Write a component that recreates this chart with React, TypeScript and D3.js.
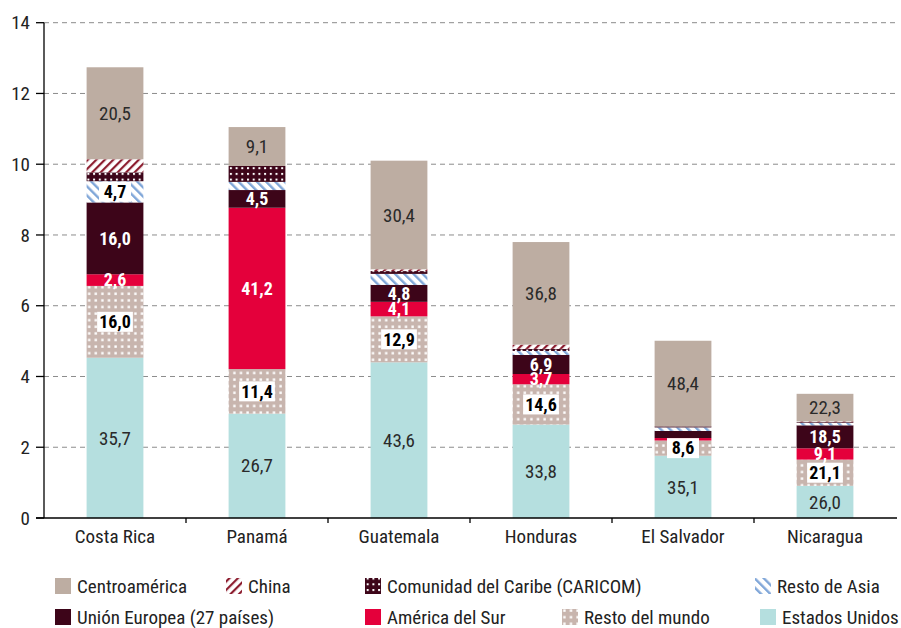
import React from "react";
import * as d3 from "d3";

const categories = ["Costa Rica", "Panamá", "Guatemala", "Honduras", "El Salvador", "Nicaragua"];

// stacked values (bottom to top)
const estadosUnidos = [4.53, 2.95, 4.4, 2.64, 1.76, 0.91];
const restoMundo = [2.03, 1.26, 1.3, 1.14, 0.43, 0.74];
const americaSur = [0.33, 4.56, 0.41, 0.29, 0.07, 0.32];
const unionEuropea = [2.03, 0.5, 0.48, 0.54, 0.2, 0.65];
const restoAsia = [0.6, 0.23, 0.31, 0.11, 0.1, 0.07];
const caricom = [0.25, 0.45, 0.08, 0.06, 0.03, 0.02];
const china = [0.37, 0.0, 0.05, 0.12, 0.0, 0.02];
const centroamerica = [2.6, 1.1, 3.07, 2.9, 2.42, 0.78];

// percentage labels
const lblEstadosUnidos = ["35,7", "26,7", "43,6", "33,8", "35,1", "26,0"];
const lblRestoMundo = ["16,0", "11,4", "12,9", "14,6", "8,6", "21,1"];
const lblAmericaSur = ["2,6", "41,2", "4,1", "3,7", null, "9,1"];
const lblUnionEuropea = ["16,0", "4,5", "4,8", "6,9", null, "18,5"];
const lblRestoAsia = ["4,7", null, null, null, null, null];
const lblCentroamerica = ["20,5", "9,1", "30,4", "36,8", "48,4", "22,3"];

const yTicks = [0, 2, 4, 6, 8, 10, 12, 14];

type LabelStyle = "plain" | "box" | "white";
const series = [
  { key: "eeuu", name: "Estados Unidos", values: estadosUnidos, labels: lblEstadosUnidos, fill: "#b5dfdf", style: "plain" as LabelStyle },
  { key: "mundo", name: "Resto del mundo", values: restoMundo, labels: lblRestoMundo, fill: "url(#pMundo)", style: "box" as LabelStyle },
  { key: "sur", name: "América del Sur", values: americaSur, labels: lblAmericaSur, fill: "#e4003b", style: "white" as LabelStyle },
  { key: "ue", name: "Unión Europea (27 países)", values: unionEuropea, labels: lblUnionEuropea, fill: "#3d0519", style: "white" as LabelStyle },
  { key: "asia", name: "Resto de Asia", values: restoAsia, labels: lblRestoAsia, fill: "url(#pAsia)", style: "box" as LabelStyle },
  { key: "caricom", name: "Comunidad del Caribe (CARICOM)", values: caricom, labels: categories.map(() => null), fill: "url(#pCaricom)", style: "plain" as LabelStyle },
  { key: "china", name: "China", values: china, labels: categories.map(() => null), fill: "url(#pChina)", style: "plain" as LabelStyle },
  { key: "centro", name: "Centroamérica", values: centroamerica, labels: lblCentroamerica, fill: "#bdada2", style: "plain" as LabelStyle },
];

const legendItems = [
  { key: "centro", x: 55, row: 0 },
  { key: "china", x: 226, row: 0 },
  { key: "caricom", x: 365, row: 0 },
  { key: "asia", x: 755, row: 0 },
  { key: "ue", x: 55, row: 1 },
  { key: "sur", x: 365, row: 1 },
  { key: "mundo", x: 562, row: 1 },
  { key: "eeuu", x: 760, row: 1 },
];

const FONT = "'Liberation Sans Narrow', 'Roboto Condensed', 'Arial Narrow', Roboto, sans-serif";

function textW(s: string, size: number) {
  let w = 0;
  for (const c of s) w += c === "," ? 0.28 : 0.556;
  return w * size * 0.82;
}

export default function App() {
  const W = 901, H = 628;
  const x0 = 44, x1 = 896;
  const x = d3.scaleBand<string>().domain(categories).range([x0, x1]).padding(0);
  const y = d3.scaleLinear().domain([0, 14]).range([518, 22.7]);
  const bw = x.bandwidth() * 0.4;

  const stackData = categories.map((c, i) => {
    const o: any = { cat: c };
    series.forEach((s) => (o[s.key] = s.values[i]));
    return o;
  });
  const stacked = d3.stack<any>().keys(series.map((s) => s.key))(stackData);

  return (
    <svg width={W} height={H} style={{ display: "block", position: "absolute", left: 0, top: 0 }} fontFamily={FONT}>
      <defs>
        <pattern id="pMundo" width="6.6" height="6.6" patternUnits="userSpaceOnUse">
          <rect width="6.6" height="6.6" fill="#c8b5ae" />
          <rect x="2.2" y="2.2" width="2.4" height="2.4" fill="#fff" />
        </pattern>
        <pattern id="pCaricom" width="5.7" height="5.7" patternUnits="userSpaceOnUse">
          <rect width="5.7" height="5.7" fill="#3d0519" />
          <rect x="1.9" y="1.9" width="2" height="2" fill="#fff" />
        </pattern>
        <pattern id="pChina" width="6" height="6" patternUnits="userSpaceOnUse" patternTransform="rotate(45)">
          <rect width="6" height="6" fill="#fff" />
          <rect x="0" y="0" width="2.2" height="6" fill="#8c1c2e" />
        </pattern>
        <pattern id="pAsia" width="6.5" height="6.5" patternUnits="userSpaceOnUse" patternTransform="rotate(-45)">
          <rect width="6.5" height="6.5" fill="#fff" />
          <rect x="0" y="0" width="2.4" height="6.5" fill="#7fa6d8" />
        </pattern>
      </defs>

      {/* gridlines */}
      {yTicks.filter((t) => t > 0).map((t) => (
        <line key={t} x1={x0} x2={897} y1={y(t)} y2={y(t)} stroke="#8c8c8c" strokeWidth={1} strokeDasharray="5,4" />
      ))}

      {/* bars */}
      {stacked.map((layer, li) => (
        <g key={layer.key}>
          {layer.map((d, i) => {
            const h = y(d[0]) - y(d[1]);
            if (h <= 0) return null;
            const cx = (x(categories[i]) as number) + x.bandwidth() / 2;
            return <rect key={i} x={cx - bw / 2} y={y(d[1])} width={bw} height={h} fill={series[li].fill} />;
          })}
        </g>
      ))}

      {/* labels */}
      {stacked.map((layer, li) => {
        const s = series[li];
        return (
          <g key={"l" + layer.key}>
            {layer.map((d, i) => {
              const lab = s.labels[i];
              if (!lab) return null;
              const cx = (x(categories[i]) as number) + x.bandwidth() / 2;
              const cy = (y(d[0]) + y(d[1])) / 2;
              if (s.style === "plain") {
                return (
                  <text key={i} x={cx} y={cy} dy="0.35em" textAnchor="middle" fontSize={19} fill="#2a2a2a">
                    {lab}
                  </text>
                );
              }
              if (s.style === "white") {
                return (
                  <text key={i} x={cx} y={cy} dy="0.35em" textAnchor="middle" fontSize={18} fontWeight="bold" fill="#fff">
                    {lab}
                  </text>
                );
              }
              const tw = Math.max(textW(lab, 18) + 7, 32);
              return (
                <g key={i}>
                  <rect x={cx - tw / 2} y={cy - 10} width={tw} height={20} fill="#fff" />
                  <text x={cx} y={cy} dy="0.35em" textAnchor="middle" fontSize={18} fontWeight="bold" fill="#000">
                    {lab}
                  </text>
                </g>
              );
            })}
          </g>
        );
      })}

      {/* y axis */}
      <line x1={x0} x2={x0} y1={y(14)} y2={y(0)} stroke="#000" strokeWidth={1.3} />
      {yTicks.map((t) => (
        <g key={t}>
          <line x1={x0 - 8} x2={x0} y1={y(t)} y2={y(t)} stroke="#000" strokeWidth={1.3} />
          <text x={30} y={y(t)} dy="0.35em" textAnchor="end" fontSize={19} fill="#222">
            {t}
          </text>
        </g>
      ))}

      {/* x axis */}
      <line x1={x0 - 8} x2={897} y1={y(0)} y2={y(0)} stroke="#000" strokeWidth={1.3} />
      {categories.map((c, i) => {
        const bx = (x(c) as number) + x.bandwidth();
        return (
          <g key={c}>
            {i < categories.length - 1 && <line x1={bx} x2={bx} y1={y(0)} y2={y(0) + 5} stroke="#000" strokeWidth={1.3} />}
            <text x={(x(c) as number) + x.bandwidth() / 2} y={536} dy="0.35em" textAnchor="middle" fontSize={19} fill="#222">
              {c}
            </text>
          </g>
        );
      })}

      {/* legend */}
      {legendItems.map((it) => {
        const s = series.find((q) => q.key === it.key)!;
        const cy = it.row === 0 ? 586 : 617;
        return (
          <g key={it.key}>
            <rect x={it.x} y={cy - 8} width={16} height={16} fill={s.fill} />
            <text x={it.x + 22} y={cy} dy="0.35em" fontSize={19} fill="#222">
              {s.name}
            </text>
          </g>
        );
      })}
    </svg>
  );
}
